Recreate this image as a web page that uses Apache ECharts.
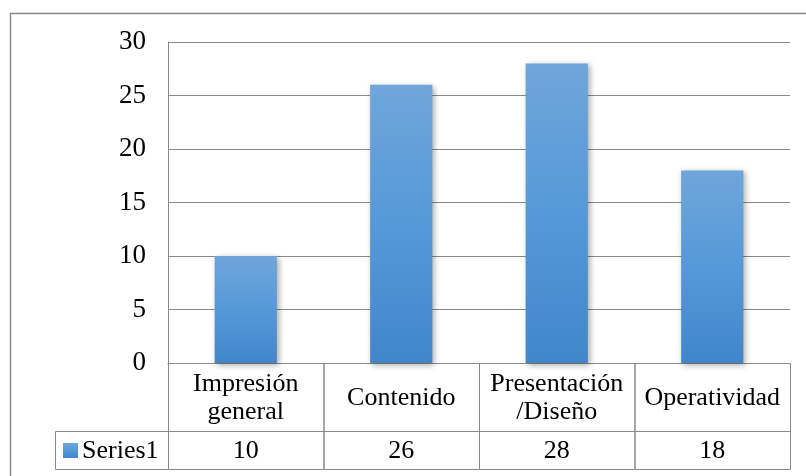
<!DOCTYPE html>
<html>
<head>
<meta charset="utf-8">
<script src="https://cdn.jsdelivr.net/npm/echarts@6/dist/echarts.min.js"></script>
<style>
html,body{margin:0;padding:0;background:#fff;}
#c{width:806px;height:476px;}
</style>
</head>
<body>
<div id="c"></div>
<script>
const categories = ['Impresión\ngeneral', 'Contenido', 'Presentación\n/Diseño', 'Operatividad'];
const seriesName = 'Series1';
const values = [10, 26, 28, 18];
const yTicks = { min: 0, max: 30, interval: 5 };

const FONT = '"Liberation Serif", "Times New Roman", serif';
const LINE = '#898989';
const ROW1 = 68, ROW2 = 38, LEGEND_W = 113;

const barGrad = new echarts.graphic.LinearGradient(0, 0, 0, 1, [
  { offset: 0, color: '#6fa6db' },
  { offset: 0.5, color: '#5599d8' },
  { offset: 1, color: '#4186ca' }
]);

const chart = echarts.init(document.getElementById('c'), null, { renderer: 'canvas' });

chart.setOption({
  animation: false,
  backgroundColor: '#fff',
  graphic: [{
    type: 'rect', silent: true, z: -1,
    shape: { x: 10.5, y: 13.5, width: 900, height: 600 },
    style: { fill: 'none', stroke: LINE, lineWidth: 1.5 }
  }],
  grid: { left: 168, right: 16, top: 42, bottom: 113, containLabel: false },
  xAxis: {
    type: 'category',
    data: categories,
    boundaryGap: true,
    axisLine: { show: true, lineStyle: { color: LINE, width: 1 } },
    axisTick: { show: false },
    axisLabel: { show: false },
    splitLine: { show: false }
  },
  yAxis: {
    type: 'value',
    min: yTicks.min, max: yTicks.max, interval: yTicks.interval,
    axisLine: { show: true, lineStyle: { color: LINE, width: 1 } },
    axisTick: { show: false },
    axisLabel: { color: '#000', fontFamily: FONT, fontSize: 27, margin: 22 },
    splitLine: { show: true, lineStyle: { color: LINE, width: 1.2 } }
  },
  series: [{
    type: 'bar',
    name: seriesName,
    data: values,
    barWidth: '40%',
    itemStyle: {
      color: barGrad,
      shadowColor: 'rgba(0,0,0,0.35)',
      shadowBlur: 6,
      shadowOffsetX: 2,
      shadowOffsetY: 2
    }
  }, {
    type: 'custom',
    clip: false,
    silent: true,
    data: values.map((v, i) => [i, v]),
    renderItem: function (params, api) {
      const idx = api.value(0);
      const p = api.coord([idx, 0]);
      const w = api.size([1, 0])[0];
      const x0 = p[0] - w / 2;
      const y0 = p[1];
      const lineStyle = { fill: 'none', stroke: LINE, lineWidth: 1 };
      const f = '26px ' + FONT;
      const children = [
        { type: 'rect', shape: { x: x0 + 0.5, y: y0 + 0.5, width: w, height: ROW1 }, style: lineStyle },
        { type: 'rect', shape: { x: x0 + 0.5, y: y0 + ROW1 + 0.5, width: w, height: ROW2 }, style: lineStyle },
        { type: 'text', style: { x: p[0], y: y0 + ROW1 / 2 + 1, text: categories[idx], textAlign: 'center', textVerticalAlign: 'middle', font: f, fill: '#000', lineHeight: 28 } },
        { type: 'text', style: { x: p[0], y: y0 + ROW1 + ROW2 / 2 + 1, text: String(api.value(1)), textAlign: 'center', textVerticalAlign: 'middle', font: f, fill: '#000' } }
      ];
      if (params.dataIndex === 0) {
        children.push(
          { type: 'rect', shape: { x: x0 - LEGEND_W + 0.5, y: y0 + ROW1 + 0.5, width: LEGEND_W, height: ROW2 }, style: lineStyle },
          { type: 'rect', shape: { x: x0 - LEGEND_W + 8, y: y0 + ROW1 + ROW2 / 2 - 7, width: 15, height: 15 }, style: { fill: barGrad } },
          { type: 'text', style: { x: x0 - LEGEND_W + 27, y: y0 + ROW1 + ROW2 / 2 + 1, text: seriesName, textAlign: 'left', textVerticalAlign: 'middle', font: f, fill: '#000' } }
        );
      }
      return { type: 'group', children: children };
    }
  }]
});
</script>
</body>
</html>
